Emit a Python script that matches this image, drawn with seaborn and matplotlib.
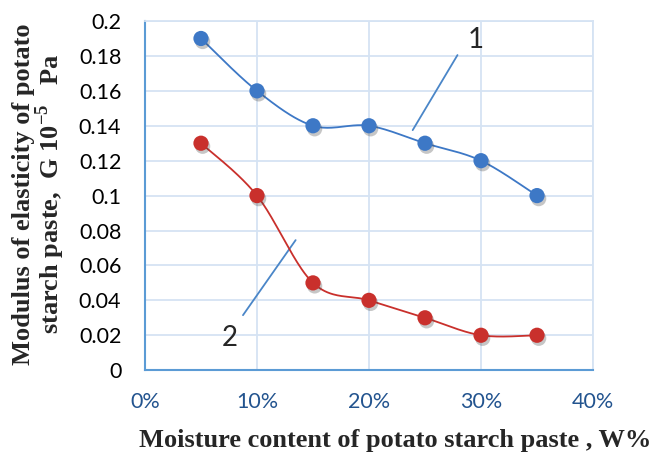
import numpy as np
import pandas as pd
import matplotlib
matplotlib.use("Agg")
import matplotlib.pyplot as plt
import matplotlib.patheffects as pe
from matplotlib.ticker import FuncFormatter
import seaborn as sns

# Moisture content (fraction) and modulus of elasticity for the two pastes
moisture = [0.05, 0.10, 0.15, 0.20, 0.25, 0.30, 0.35]
modulus_1 = [0.19, 0.16, 0.14, 0.14, 0.13, 0.12, 0.10]
modulus_2 = [0.13, 0.10, 0.05, 0.04, 0.03, 0.02, 0.02]

x_ticks = [0.0, 0.1, 0.2, 0.3, 0.4]
y_ticks = [0, 0.02, 0.04, 0.06, 0.08, 0.1, 0.12, 0.14, 0.16, 0.18, 0.2]

BLUE = "#3d78c6"
RED = "#c9302c"
GRID = "#d5e3f3"
AXIS = "#5b9bd5"


def smooth_curve(xs, ys, n=40):
    """Cubic Bezier smoothing through every point (neighbour-based tangents)."""
    p = np.column_stack([xs, ys]).astype(float)
    out = []
    for i in range(len(p) - 1):
        p0 = p[i - 1] if i > 0 else p[i]
        p1, p2 = p[i], p[i + 1]
        p3 = p[i + 2] if i + 2 < len(p) else p[i + 1]
        c1 = p1 + (p2 - p0) / 6.0
        c2 = p2 - (p3 - p1) / 6.0
        t = np.linspace(0, 1, n)[:, None]
        seg = ((1 - t) ** 3) * p1 + 3 * ((1 - t) ** 2) * t * c1 + 3 * (1 - t) * t ** 2 * c2 + t ** 3 * p2
        out.append(seg if i == 0 else seg[1:])
    s = np.vstack(out)
    return s[:, 0], s[:, 1]


sns.set_style("white")
plt.rcParams["mathtext.fontset"] = "custom"
plt.rcParams["mathtext.bf"] = "Liberation Serif:bold"
plt.rcParams["mathtext.rm"] = "Liberation Serif:bold"

fig = plt.figure(figsize=(6.56, 4.57), dpi=100)
ax = fig.add_axes([0.221, 0.190, 0.683, 0.764])

df = pd.DataFrame({"W": moisture, "G1": modulus_1, "G2": modulus_2})

for col, color in (("G1", BLUE), ("G2", RED)):
    sx, sy = smooth_curve(df["W"].values, df[col].values)
    sns.lineplot(x=sx, y=sy, ax=ax, color=color, lw=1.3, sort=False, zorder=3)
    sns.scatterplot(data=df, x="W", y=col, ax=ax, color=color, s=120,
                    edgecolor="none", zorder=4,
                    path_effects=[pe.SimplePatchShadow(offset=(1.2, -2.2), shadow_rgbFace="#444444", alpha=0.3),
                                  pe.Normal()])

# Leader lines and curve numbers
ax.plot([0.239, 0.279], [0.1375, 0.1805], color="#4a86c8", lw=1.3, zorder=2)
ax.text(0.295, 0.189, "1", fontsize=20, family="Lato", ha="center", va="center")
ax.plot([0.0875, 0.1345], [0.0315, 0.0745], color="#4a86c8", lw=1.3, zorder=2)
ax.text(0.076, 0.0185, "2", fontsize=20, family="Lato", ha="center", va="center")

ax.set_xlim(0, 0.4)
ax.set_ylim(0, 0.2)
ax.set_xticks(x_ticks)
ax.set_yticks(y_ticks)
ax.xaxis.set_major_formatter(FuncFormatter(lambda v, _: f"{v * 100:.0f}%"))
ax.yaxis.set_major_formatter(FuncFormatter(lambda v, _: f"{v:g}"))
ax.grid(True, color=GRID, lw=1.3)
ax.set_axisbelow(True)

for side in ("top", "right"):
    ax.spines[side].set_color(GRID)
    ax.spines[side].set_linewidth(1.3)
for side in ("left", "bottom"):
    ax.spines[side].set_color(AXIS)
    ax.spines[side].set_linewidth(1.5)

ax.tick_params(axis="both", length=0)
ax.tick_params(axis="y", pad=17, labelsize=15.5, labelcolor="black")
ax.tick_params(axis="x", pad=16, labelsize=15.5, labelcolor="#23548f")
for lab in ax.get_xticklabels() + ax.get_yticklabels():
    lab.set_family("Lato")

ax.set_xlabel("Moisture content of potato starch paste , W%", family="Liberation Serif",
              fontweight="bold", fontsize=19)
ax.xaxis.set_label_coords(0.558, -0.168)
ax.set_ylabel("Modulus of elasticity of potato\n" + r"starch paste,  G 10$^{\mathbf{-5}}$   Pa",
              family="Liberation Serif", fontweight="bold", fontsize=19,
              linespacing=0.92)
ax.yaxis.set_label_coords(-0.174, 0.505)

fig.savefig("out.png", dpi=100)
